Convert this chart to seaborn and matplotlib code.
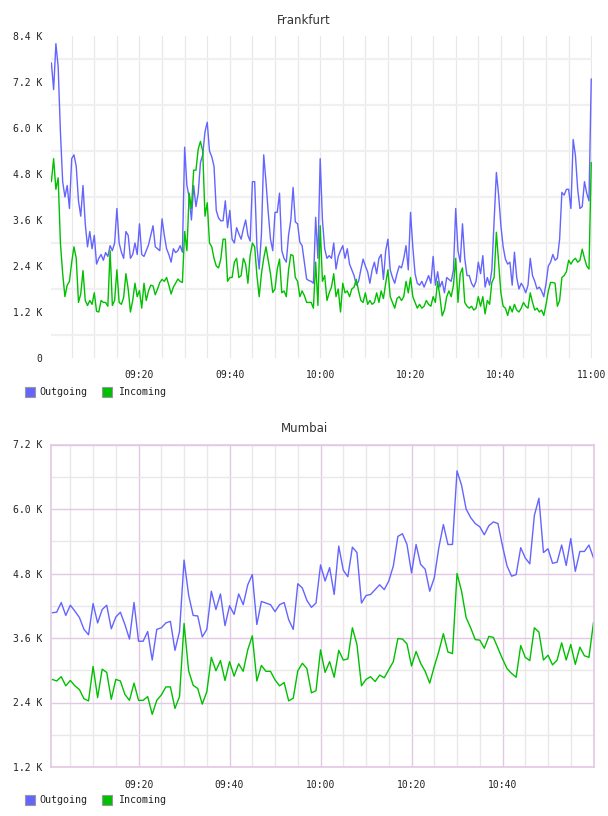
import datetime as dt
import numpy as np
import pandas as pd
import matplotlib
matplotlib.use("Agg")
import matplotlib.pyplot as plt
import matplotlib.dates as mdates
from matplotlib.patches import Rectangle
from matplotlib.ticker import FixedLocator, FuncFormatter
import seaborn as sns

# ---------------- data ----------------
series_names = ["Outgoing", "Incoming"]

# Frankfurt: one sample every 30 s, 09:00:30 .. 11:00:00 (values in K)
fra_start = "2020-01-01 09:00:30"
fra_out = [
    7.7, 7.0, 8.2, 7.6, 5.9, 4.6, 4.2, 4.5, 3.9, 5.2,
    5.3, 5.0, 4.1, 3.7, 4.5, 3.5, 2.9, 3.3, 2.85, 3.2,
    2.45, 2.6, 2.7, 2.55, 2.75, 2.65, 2.93, 2.8, 3.0, 3.9,
    3.0, 2.76, 2.6, 3.3, 3.2, 2.6, 2.7, 3.0, 2.7, 3.5,
    2.7, 2.65, 2.8, 2.95, 3.2, 3.45, 2.9, 2.85, 2.8, 3.63,
    3.2, 2.85, 2.7, 2.5, 2.85, 2.75, 2.8, 2.93, 2.76, 5.5,
    4.5, 4.2, 3.6, 4.5, 3.95, 4.3, 5.1, 5.3, 5.9, 6.15,
    5.4, 5.25, 5.0, 3.85, 3.65, 3.58, 3.58, 4.1, 3.4, 3.85,
    3.1, 3.0, 3.4, 3.24, 3.1, 3.37, 3.6, 3.2, 3.05, 4.6,
    4.6, 2.9, 2.32, 3.24, 5.3, 4.6, 3.8, 3.1, 2.8, 3.8,
    3.8, 4.3, 2.8, 2.6, 2.5, 3.2, 3.6, 4.45, 3.55, 3.5,
    3.02, 2.93, 2.5, 2.06, 2.02, 2.0, 1.95, 3.67, 2.6, 5.2,
    3.6, 2.85, 2.6, 2.67, 2.6, 3.0, 2.32, 2.65, 2.8, 2.93,
    2.6, 2.85, 2.45, 2.3, 2.15, 1.9, 2.0, 2.3, 2.58, 2.4,
    2.25, 1.95, 2.3, 2.5, 2.2, 2.6, 2.7, 2.05, 2.8, 3.1,
    2.3, 2.1, 1.95, 2.2, 2.4, 2.35, 2.6, 2.93, 2.3, 3.8,
    2.9, 2.2, 1.95, 1.9, 2.0, 1.85, 2.0, 2.15, 1.95, 2.65,
    1.9, 2.25, 1.85, 2.0, 1.7, 2.1, 2.05, 2.0, 2.3, 3.9,
    2.8, 2.5, 3.5, 2.6, 2.15, 2.15, 1.95, 1.85, 2.0, 2.5,
    2.2, 2.67, 1.85, 2.1, 1.9, 2.3, 3.6, 4.84, 4.25, 3.45,
    2.9, 2.58, 2.45, 2.5, 1.9, 2.76, 2.1, 1.8, 1.95, 1.85,
    1.7, 1.9, 2.6, 2.15, 2.0, 1.8, 1.85, 1.75, 1.6, 1.95,
    2.4, 2.5, 2.7, 2.55, 2.6, 3.1, 4.32, 4.25, 4.4, 4.4,
    3.9, 5.7, 5.28, 4.4, 3.9, 3.95, 4.6, 4.3, 4.1, 7.28,
]
fra_in = [
    4.6, 5.2, 4.4, 4.7, 3.0, 2.2, 1.6, 1.9, 2.0, 2.5,
    2.9, 2.6, 1.45, 1.67, 2.28, 1.5, 1.37, 1.5, 1.4, 1.7,
    1.22, 1.2, 1.5, 1.45, 1.45, 1.35, 2.8, 1.37, 1.5, 2.3,
    1.45, 1.4, 1.58, 2.2, 1.8, 1.2, 1.5, 1.95, 1.6, 1.76,
    1.3, 1.95, 1.5, 1.75, 1.9, 1.88, 1.65, 1.8, 1.97, 2.05,
    2.0, 2.1, 1.9, 1.67, 1.85, 1.95, 2.06, 2.0, 1.97, 3.3,
    2.8, 4.3, 3.9, 4.9, 4.9, 5.45, 5.65, 5.4, 3.7, 4.05,
    3.0, 2.9, 2.6, 2.4, 2.35, 2.58, 3.1, 3.1, 2.0, 2.1,
    2.1, 2.5, 2.6, 2.1, 2.15, 2.6, 2.45, 1.95, 2.67, 3.0,
    2.9, 2.15, 1.6, 2.2, 2.6, 2.9, 2.55, 2.2, 1.71, 1.8,
    2.32, 2.58, 1.7, 1.75, 1.6, 2.3, 2.7, 2.67, 2.1, 2.0,
    1.6, 1.75, 1.63, 1.45, 1.45, 1.45, 1.3, 2.5, 1.37, 3.45,
    2.0, 2.15, 1.5, 1.7, 1.85, 2.2, 1.6, 1.8, 1.2, 1.95,
    1.7, 1.75, 1.6, 1.8, 1.85, 2.05, 1.75, 1.5, 1.45, 1.7,
    1.4, 1.5, 1.4, 1.45, 1.7, 1.45, 1.75, 1.55, 1.95, 2.3,
    1.6, 1.45, 1.3, 1.55, 1.6, 1.5, 1.6, 2.0, 1.7, 2.1,
    1.6, 1.45, 1.3, 1.4, 1.3, 1.35, 1.5, 1.4, 1.35, 1.6,
    1.45, 2.0, 1.6, 1.1, 1.25, 1.6, 1.75, 1.6, 1.9, 2.6,
    1.45, 2.2, 2.35, 1.45, 1.35, 1.3, 1.35, 1.25, 1.3, 1.6,
    1.35, 1.6, 1.15, 1.5, 1.4, 1.97, 2.1, 3.28, 2.5, 1.7,
    1.35, 1.3, 1.11, 1.35, 1.2, 1.4, 1.25, 1.2, 1.3, 1.45,
    1.35, 1.3, 1.7, 1.45, 1.25, 1.3, 1.2, 1.25, 1.11, 1.4,
    1.75, 1.97, 1.97, 1.95, 1.35, 1.5, 2.1, 2.15, 2.25, 2.55,
    2.45, 2.55, 2.6, 2.5, 2.55, 2.84, 2.6, 2.4, 2.32, 5.1,
]

# Mumbai: one sample per minute, 09:01 .. 11:00 (values in K)
mum_start = "2020-01-01 09:01:00"
mum_out = [
    4.07, 4.08, 4.26, 4.02, 4.21, 4.10, 3.98, 3.76, 3.66, 4.24,
    3.88, 4.13, 4.21, 3.77, 3.99, 4.08, 3.85, 3.58, 4.26, 3.54,
    3.54, 3.72, 3.19, 3.76, 3.79, 3.88, 3.91, 3.37, 3.72, 5.05,
    4.40, 4.02, 4.01, 3.62, 3.76, 4.47, 4.13, 4.42, 3.83, 4.20,
    4.04, 4.42, 4.22, 4.59, 4.78, 3.85, 4.28, 4.25, 4.22, 4.09,
    4.22, 4.26, 3.94, 3.76, 4.61, 4.53, 4.30, 4.17, 4.25, 4.96,
    4.66, 4.91, 4.41, 5.31, 4.86, 4.74, 5.29, 5.19, 4.25, 4.39,
    4.41, 4.50, 4.59, 4.50, 4.66, 4.94, 5.49, 5.54, 5.34, 4.81,
    5.34, 4.97, 4.88, 4.47, 4.72, 5.28, 5.71, 5.34, 5.34, 6.71,
    6.44, 6.00, 5.84, 5.73, 5.67, 5.52, 5.69, 5.76, 5.73, 5.31,
    4.94, 4.75, 4.78, 5.28, 5.09, 4.98, 5.88, 6.20, 5.19, 5.26,
    4.99, 5.01, 5.33, 4.95, 5.45, 4.84, 5.21, 5.21, 5.33, 5.09,
]
mum_in = [
    2.83, 2.80, 2.88, 2.71, 2.81, 2.71, 2.64, 2.47, 2.43, 3.07,
    2.49, 3.02, 2.96, 2.46, 2.83, 2.80, 2.55, 2.44, 2.76, 2.44,
    2.44, 2.51, 2.18, 2.44, 2.54, 2.69, 2.69, 2.29, 2.51, 3.87,
    2.99, 2.72, 2.66, 2.37, 2.60, 3.24, 2.99, 3.18, 2.81, 3.16,
    2.89, 3.12, 2.98, 3.38, 3.64, 2.80, 3.09, 2.98, 2.98, 2.82,
    2.71, 2.77, 2.43, 2.48, 2.99, 3.13, 3.03, 2.58, 2.62, 3.38,
    2.96, 3.16, 2.87, 3.37, 3.19, 3.21, 3.79, 3.48, 2.71, 2.83,
    2.88, 2.79, 2.91, 2.86, 3.01, 3.16, 3.59, 3.58, 3.49, 3.08,
    3.35, 3.13, 2.98, 2.76, 3.07, 3.35, 3.68, 3.34, 3.31, 4.80,
    4.47, 3.98, 3.79, 3.57, 3.56, 3.41, 3.63, 3.61, 3.41, 3.21,
    3.03, 2.94, 2.87, 3.46, 3.24, 3.18, 3.79, 3.71, 3.19, 3.28,
    3.10, 3.19, 3.51, 3.19, 3.48, 3.11, 3.43, 3.27, 3.24, 3.89,
]

fra_yticks = [0, 1.2, 2.4, 3.6, 4.8, 6.0, 7.2, 8.4]
mum_yticks = [1.2, 2.4, 3.6, 4.8, 6.0, 7.2]
time_labels = ["09:20", "09:40", "10:00", "10:20", "10:40", "11:00"]

# ---------------- style ----------------
BLUE = "#6464ff"
GREEN = "#00c000"
TXT = "#222222"
PINK = "#e3c8e3"
GRAY = "#e8e8e8"

sns.set_theme(style="white")
plt.rcParams["font.family"] = ["DejaVu Sans Mono", "DejaVu Sans"]

W, H = 608, 816
fig = plt.figure(figsize=(W / 100, H / 100), dpi=100)


def make_df(start, freq, out, inc):
    t = pd.date_range(start, periods=len(out), freq=freq)
    return pd.DataFrame({
        "time": list(t) + list(t),
        "value": list(out) + list(inc),
        "series": [series_names[0]] * len(out) + [series_names[1]] * len(inc),
    })


def kfmt(v, pos):
    return "0" if abs(v) < 1e-9 else f"{v:.1f} K"


def day(hhmm):
    return dt.datetime.strptime("2020-01-01 " + hhmm, "%Y-%m-%d %H:%M")


def add_legend(y_center):
    items = [(25, 39, BLUE, "Outgoing"), (102, 118, GREEN, "Incoming")]
    for x0, xt, col, name in items:
        fig.add_artist(Rectangle((x0 / W, 1 - (y_center + 5) / H), 10 / W, 10 / H,
                                 facecolor=col, edgecolor="#999999", lw=0.8,
                                 transform=fig.transFigure))
        fig.text(xt / W, 1 - y_center / H, name, ha="left", va="center",
                 fontsize=7.2, color=TXT)


# ---------------- Frankfurt ----------------
ax1 = fig.add_axes([51 / W, 1 - 358 / H, 541 / W, 322 / H])
df1 = make_df(fra_start, "30s", fra_out, fra_in)
sns.lineplot(data=df1, x="time", y="value", hue="series",
             palette={"Outgoing": BLUE, "Incoming": GREEN},
             hue_order=series_names, estimator=None, legend=False,
             linewidth=1.0, ax=ax1)
ax1.set_ylim(0, 8.4)
ax1.set_xlim(day("09:00") + dt.timedelta(seconds=25), day("11:00") + dt.timedelta(seconds=10))
ax1.yaxis.set_major_locator(FixedLocator(fra_yticks))
ax1.yaxis.set_minor_locator(FixedLocator([v + 0.6 for v in fra_yticks[:-1]]))
ax1.yaxis.set_major_formatter(FuncFormatter(kfmt))
ax1.set_xticks([day(s) for s in time_labels])
ax1.set_xticklabels(time_labels)
ax1.xaxis.set_minor_locator(mdates.MinuteLocator(byminute=range(0, 60, 5)))
ax1.grid(False)
ax1.grid(which="minor", axis="y", color="#f0f0f0", lw=1.6)
ax1.grid(which="both", axis="x", color=GRAY, lw=0.9)
for s in ax1.spines.values():
    s.set_visible(False)
ax1.tick_params(axis="both", which="both", length=0, labelsize=7, colors=TXT)
ax1.tick_params(axis="y", pad=6)
ax1.tick_params(axis="x", pad=9)
ax1.set_xlabel("")
ax1.set_ylabel("")
ax1.set_axisbelow(True)
fig.text(304 / W, 1 - 20 / H, "Frankfurt", ha="center", va="center",
         fontsize=8.5, family="DejaVu Sans", color="#333333")
add_legend(392)

# ---------------- Mumbai ----------------
ax2 = fig.add_axes([51 / W, 1 - 767 / H, 542.5 / W, 322.5 / H])
df2 = make_df(mum_start, "1min", mum_out, mum_in)
sns.lineplot(data=df2, x="time", y="value", hue="series",
             palette={"Outgoing": BLUE, "Incoming": GREEN},
             hue_order=series_names, estimator=None, legend=False,
             linewidth=1.0, ax=ax2)
ax2.set_ylim(1.2, 7.2)
ax2.set_xlim(day("09:01") - dt.timedelta(seconds=15), day("11:00"))
ax2.yaxis.set_major_locator(FixedLocator(mum_yticks))
ax2.yaxis.set_minor_locator(FixedLocator([v + 0.6 for v in mum_yticks[:-1]]))
ax2.yaxis.set_major_formatter(FuncFormatter(kfmt))
ax2.set_xticks([day(s) for s in time_labels[:-1]])
ax2.set_xticklabels(time_labels[:-1])
ax2.xaxis.set_minor_locator(mdates.MinuteLocator(byminute=range(0, 60, 5)))
ax2.grid(False)
ax2.grid(which="minor", color=GRAY, lw=1.0)
ax2.grid(which="major", color=PINK, lw=1.0)
for s in ax2.spines.values():
    s.set_color(PINK)
    s.set_linewidth(1.2)
ax2.tick_params(axis="both", which="both", length=0, labelsize=7, colors=TXT)
ax2.tick_params(axis="y", pad=6)
ax2.tick_params(axis="x", pad=9)
ax2.set_xlabel("")
ax2.set_ylabel("")
ax2.set_axisbelow(True)
fig.text(304 / W, 1 - 428 / H, "Mumbai", ha="center", va="center",
         fontsize=8.5, family="DejaVu Sans", color="#333333")
add_legend(800)

fig.savefig("out.png", dpi=100, facecolor="white")
